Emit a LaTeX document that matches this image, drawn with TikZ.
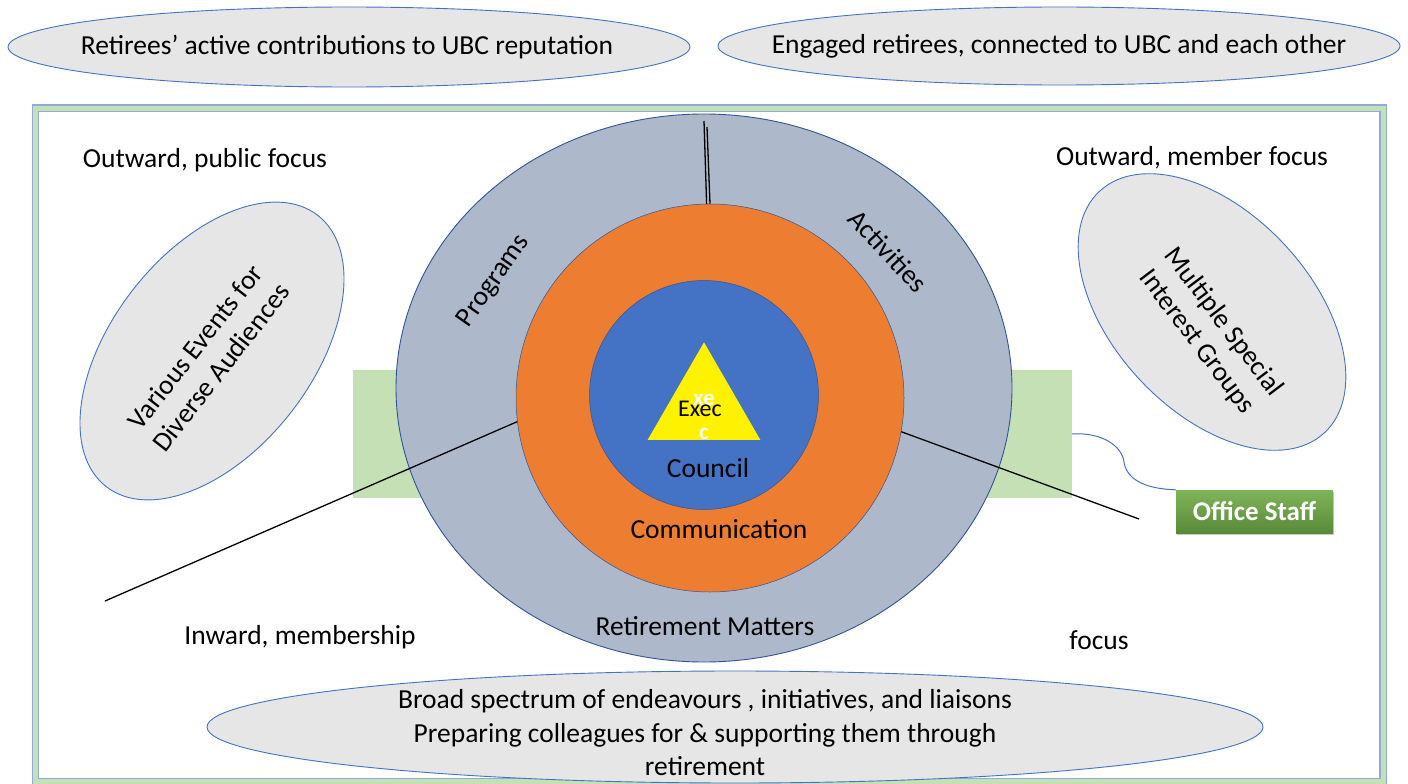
\documentclass[tikz,border=0pt]{standalone}
\usepackage{fontspec}
\setmainfont{Carlito}
\usetikzlibrary{shapes.geometric,shadows}
\definecolor{ellfill}{HTML}{E7E6E6}
\definecolor{ellline}{HTML}{4472C4}
\definecolor{ringfill}{HTML}{ADB9CA}
\definecolor{ringline}{HTML}{2F5597}
\definecolor{orangefill}{HTML}{ED7D31}
\definecolor{bluefill}{HTML}{4472C4}
\definecolor{greenrect}{HTML}{C5E0B4}
\definecolor{framegreen}{HTML}{C5E0B4}
\definecolor{frameblue}{HTML}{8FAADC}
\definecolor{staffgreen}{HTML}{70AD47}
\begin{document}
\begin{tikzpicture}[x=1pt,y=-1pt,
  lab/.style={font=\fontsize{27.5}{33}\selectfont, inner sep=0pt},
  grayell/.style={ellipse, draw=ellline, line width=0.9pt, fill=ellfill, inner sep=0pt},
  conn/.style={black, line width=1.3pt}
]
\useasboundingbox (0,0) rectangle (1408,784);
\fill[white] (0,0) rectangle (1408,784);
% frame
\draw[frameblue, line width=1.2pt, double=framegreen, double distance=5pt] (35.5,108) rectangle (1383,781.5);
% top ellipses
\node[grayell, minimum width=682pt, minimum height=80pt] (e1) at (349,47) {};
\node[lab] (t1) at (347,47) {Retirees’ active contributions to UBC reputation};
\node[grayell, minimum width=682pt, minimum height=78pt] (e2) at (1059,46) {};
\node[lab] (t2) at (1059,46) {Engaged retirees, connected to UBC and each other};
% green rectangle behind circle
\node[fill=greenrect, minimum width=719pt, minimum height=128pt, inner sep=0pt] (grect) at (712.5,434) {};
% circles
\node[ellipse, draw=ringline, line width=0.9pt, fill=ringfill, minimum width=616pt, minimum height=548pt, inner sep=0pt] (outer) at (704,388) {};
\node[circle, fill=orangefill, draw=ringline, line width=0.5pt, minimum size=388pt, inner sep=0pt] (orange) at (710,398) {};
\node[circle, fill=bluefill, draw=ringline, line width=0.5pt, minimum size=229pt, inner sep=0pt] (blue) at (704,395) {};
\node[regular polygon, regular polygon sides=3, fill=yellow, minimum size=130pt, inner sep=0pt] (tri) at (704,407.3) {};
\node[font=\bfseries\fontsize{23}{26}\selectfont, text=white, inner sep=0pt] (xe) at (704,400) {xe};
\node[font=\bfseries\fontsize{23}{26}\selectfont, text=white, inner sep=0pt] (cc) at (704,434) {c};
\node[font=\fontsize{24}{28}\selectfont, inner sep=0pt] (exec) at (700,409) {Exec};
\node[lab] (council) at (708,468) {Council};
\node[lab] (comm) at (719,529) {Communication};
\node[lab] (rm) at (705,626) {Retirement Matters};
\node[lab, rotate=55] (prog) at (494,281) {Programs};
\node[lab, rotate=-47] (act) at (888,251) {Activities};
% lines
\coordinate (lend) at (105,601);
\coordinate (rend) at (1139,519);
\coordinate (ttop1) at (704,121);
\coordinate (ttop2) at (707,127);
\draw[conn] (orange.187) -- (lend);
\draw[conn] (orange.-10) -- (rend);
\draw[conn] (ttop1) -- (orange.91);
\draw[conn] (ttop2) -- (orange.90);
% side ellipses
\node[grayell, rotate=52, minimum width=344pt, minimum height=200pt] (lell) at (212,351) {};
\node[lab, rotate=52, align=center, font=\fontsize{27.5}{33}\selectfont] (ltext) at (208,357) {Various Events for\\Diverse Audiences};
\node[grayell, rotate=-47, minimum width=330pt, minimum height=198pt] (rell) at (1212,312) {};
\node[lab, rotate=-53, align=center, font=\fontsize{27.5}{33}\selectfont] (rtext) at (1210,332) {Multiple Special\\Interest Groups};
% labels
\node[lab] (opf) at (205,160) {Outward, public focus};
\node[lab] (omf) at (1192,158) {Outward, member focus};
\node[lab] (inw) at (300,637) {Inward, membership};
\node[lab] (foc) at (1099,640) {focus};
% bottom ellipse
\node[grayell, minimum width=1056pt, minimum height=112pt] (be) at (735,727) {};
\node[lab, align=center, font=\fontsize{27.5}{33.5}\selectfont] (bt) at (705,733) {Broad spectrum of endeavours , initiatives, and liaisons\\Preparing colleagues for \& supporting them through\\retirement};
% office staff
\node[top color=staffgreen!90!white, bottom color=staffgreen!80!black, minimum width=157pt, minimum height=43pt, inner sep=0pt, drop shadow={shadow xshift=1pt, shadow yshift=-2pt, opacity=0.4}, text=white, font=\bfseries\fontsize{27}{30}\selectfont] (staff) at (1254.5,511.5) {Office Staff};
\coordinate (cstart) at (1072,434);
\draw[ellline, line width=1pt] (cstart) .. controls (1102,432) and (1122,446) .. (1124,462) .. controls (1127,482) and (1150,489) .. (staff.north west);
\end{tikzpicture}
\end{document}
